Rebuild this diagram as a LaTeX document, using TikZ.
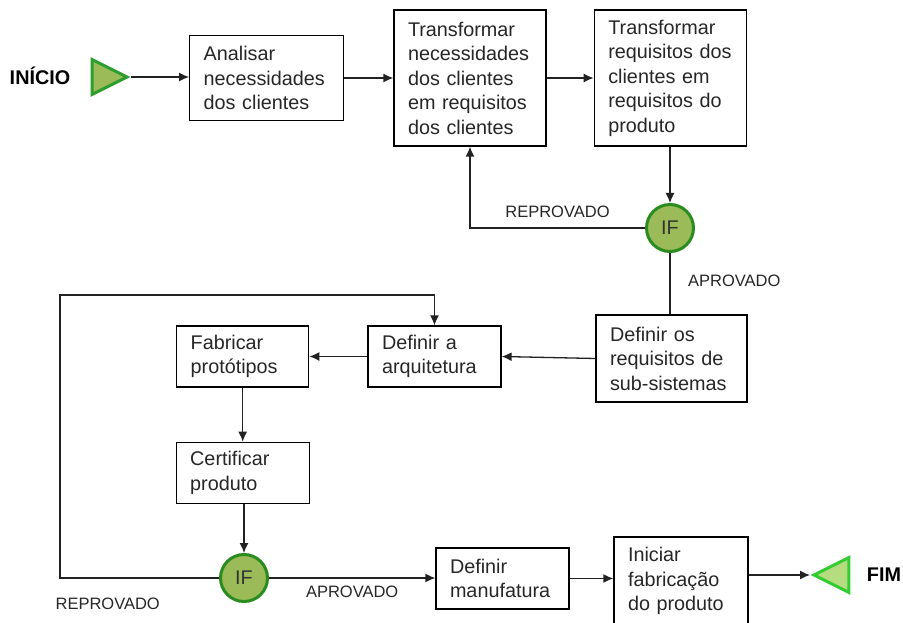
\documentclass[tikz,border=0pt]{standalone}
\usepackage{fontspec}
\setmainfont{Liberation Sans}
\usetikzlibrary{arrows.meta}
\usetikzlibrary{positioning}
\usetikzlibrary{shapes.geometric}
\definecolor{ifgreen}{HTML}{9BBB59}
\definecolor{ifborder}{HTML}{2A8C1F}
\definecolor{startborder}{HTML}{2E9E2E}
\definecolor{endgreen}{HTML}{B5DC7E}
\definecolor{endborder}{HTML}{33CC33}
\definecolor{linegray}{HTML}{222222}
\tikzset{
  task/.style={
    draw,
    rectangle,
    align=left,
    inner xsep=14pt,
    inner ysep=0pt,
    line width=1.3pt,
    node font=\fontsize{19.8}{24.5}\selectfont,
    text=black!85,
  },
  decision/.style={
    draw=ifborder,
    fill=ifgreen,
    circle,
    minimum size=47pt,
    inner sep=0pt,
    line width=3pt,
    node font=\fontsize{19.8}{24}\selectfont,
    text=black!80,
  },
  terminal/.style={
    isosceles triangle,
    isosceles triangle stretches,
    minimum width=35pt,
    minimum height=35pt,
    inner sep=0pt,
    line width=3pt,
    anchor=apex,
  },
  start/.style={
    terminal,
    draw=startborder,
    fill=ifgreen,
  },
  finish/.style={
    terminal,
    draw=endborder,
    fill=endgreen,
    shape border rotate=180,
  },
  flow/.style={
    draw,
    linegray,
    line width=1.3pt,
    -{Latex[length=10pt,width=9pt]},
  },
  link/.style={
    draw,
    linegray,
    line width=1.3pt,
  },
  answer/.style={
    node font=\fontsize{16.5}{20}\selectfont,
    text=black!85,
  },
  terminal text/.style={
    node font=\bfseries\fontsize{19.8}{24}\selectfont,
  },
}

\begin{document}
\begin{tikzpicture}[x=1pt,y=-1pt]
  \useasboundingbox (0,0) rectangle (903,623);

  \node (inicio)     [start] at (131,77) {};
  \node (inicio txt) [terminal text] at (40,76) {INÍCIO};

  \node (transfnec)  [task,text width=124pt,minimum height=136pt] at (470,78)
    {Transformar\\necessidades\\dos clientes\\em requisitos\\dos clientes};
  \node (analisar)   [task,text width=126pt,minimum height=85pt,left=49pt of transfnec]
    {Analisar\\necessidades\\dos clientes};
  \node (transfreq)  [task,text width=124pt,minimum height=136pt,right=47pt of transfnec]
    {Transformar\\requisitos dos\\clientes em\\requisitos do\\produto};

  \node (if1)        [decision] at (670,228) {IF};

  \node (defsub)     [task,text width=123pt,minimum height=87pt] at (671.5,358.5)
    {Definir os\\requisitos de\\sub-sistemas};
  \node (defarq)     [task,text width=105pt,minimum height=61pt] at (434.5,356.5)
    {Definir a\\arquitetura};
  \node (fabricar)   [task,text width=104pt,minimum height=61pt,left=58pt of defarq]
    {Fabricar\\protótipos};
  \node (certificar) [task,text width=105pt,minimum height=61pt,below=54pt of fabricar]
    {Certificar\\produto};

  \node (if2)        [decision] at (244,578) {IF};

  \node (defman)     [task,text width=105pt,minimum height=61pt] at (502.5,578.5)
    {Definir\\manufatura};
  \node (iniciar)    [task,text width=106pt,minimum height=88pt] at (681,581)
    {Iniciar\\fabricação\\do produto};

  \node (fim)        [finish] at (810,575) {};
  \node (fim txt)    [terminal text] at (884,575) {FIM};

  \coordinate (volta) at (60,295);

  \path [flow] (inicio.apex) -- (analisar.west |- inicio.apex);
  \path [flow] (analisar) -- (transfnec);
  \path [flow] (transfnec) -- (transfreq);
  \path [flow] (transfreq.south -| if1) -- (if1.north);
  \path [flow] (if1.west) -| node [answer,above=4pt,pos=0.25] {REPROVADO} (transfnec.south);
  \path [link] (if1.south) -- node [answer,right=12pt,pos=0.45] {APROVADO} (if1 |- defsub.north);
  \path [flow] (defsub.west) -- (defarq.east);
  \path [flow] (defarq) -- (fabricar);
  \path [flow] (fabricar) -- (certificar);
  \path [flow] (certificar.south -| if2) -- (if2.north);
  \path [flow] (if2.west) -| node [answer,below=14pt,pos=0.35] {REPROVADO} (volta) -| (defarq.north);
  \path [flow] (if2.east) -- node [answer,below=2pt] {APROVADO} (if2 -| defman.west);
  \path [flow] (defman.east) -- (defman.east -| iniciar.west);
  \path [flow] (fim.apex -| iniciar.east) -- (fim.apex);
\end{tikzpicture}
\end{document}
